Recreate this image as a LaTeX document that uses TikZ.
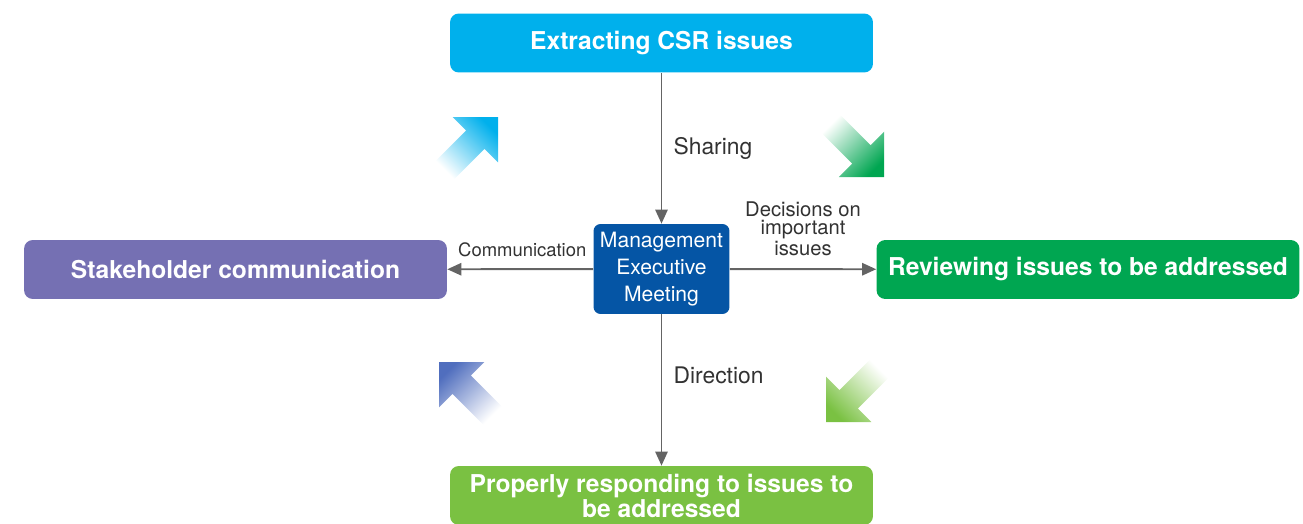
\documentclass[tikz,border=0pt]{standalone}
\usepackage{fontspec}
\setmainfont{TeX Gyre Heros}
\usetikzlibrary{positioning,arrows.meta}
\definecolor{Sky}{RGB}{0,176,236}
\definecolor{Plum}{RGB}{117,112,179}
\definecolor{Leaf}{RGB}{0,166,81}
\definecolor{Lime}{RGB}{122,193,66}
\definecolor{Navy}{RGB}{5,85,165}
\definecolor{Slate}{RGB}{80,110,190}
\definecolor{Wire}{RGB}{100,100,100}
\definecolor{Ink}{RGB}{50,50,50}
\colorlet{tint}{Sky}
% white tail, coloured head
\pgfdeclarehorizontalshading[tint]{tailfade}{100bp}{color(0bp)=(white); color(28bp)=(white); color(76bp)=(tint); color(100bp)=(tint)}

\begin{document}
\begin{tikzpicture}[x=0.02cm,y=-0.02cm,
 box/.style={rounded corners=5pt,minimum width=8.46cm,minimum height=1.18cm,inner sep=0pt,align=center,text=white,font=\fontsize{14}{13}\selectfont\bfseries},
 hub/.style={rounded corners=4pt,fill=Navy,minimum width=2.72cm,minimum height=1.8cm,inner sep=0pt,align=center,text=white,font=\fontsize{12}{15.3}\selectfont},
 a/.style={-{Triangle[length=8pt,width=7pt]},line width=1.1pt,Wire},
 lbl/.style={text=Ink,font=\fontsize{13}{15}\selectfont}]
\useasboundingbox (0,0) rectangle (1303,524);

\node[hub] (meet) at (661.5,269) {Management\\Executive\\Meeting};
\node[box,fill=Sky] (csr) at (661.5,43) {Extracting CSR issues};
\node[box,fill=Plum] (stake) at (235.5,269.5) {Stakeholder communication};
\node[box,fill=Leaf] (review) at (1088,269.5) {Reviewing issues to be addressed};
\node[box,fill=Lime] (respond) at (661.5,495.5) {Properly responding to issues to\\be addressed};

\draw[a] (csr) -- node[lbl,right=3pt] {Sharing} (meet);
\draw[a] (meet) -- node[lbl,right=3pt,pos=.4] {Direction} (respond);
\draw[a] (meet) -- node[lbl,above left=3pt and 0pt,pos=0,font=\fontsize{10.5}{12}\selectfont] {Communication} (stake);
\draw[a] (meet) -- node[lbl,above=4pt,align=center,font=\fontsize{11.5}{10.5}\selectfont] {Decisions on\\important\\issues} (review);

% faded corner arrows
\foreach \x/\y/\r/\c in {498/117/45/Sky,884/177/-45/Leaf,439/362/135/Slate,826/422/-135/Lime}{
 \colorlet{tint}{\c}
 \shade[shift={(\x,\y)},rotate=\r,shading=tailfade,shading angle=\r]
  (0,0) -- (-32,32) -- (-32,13) -- (-80,13) -- (-80,-13) -- (-32,-13) -- (-32,-32) -- cycle;
}
\end{tikzpicture}
\end{document}
